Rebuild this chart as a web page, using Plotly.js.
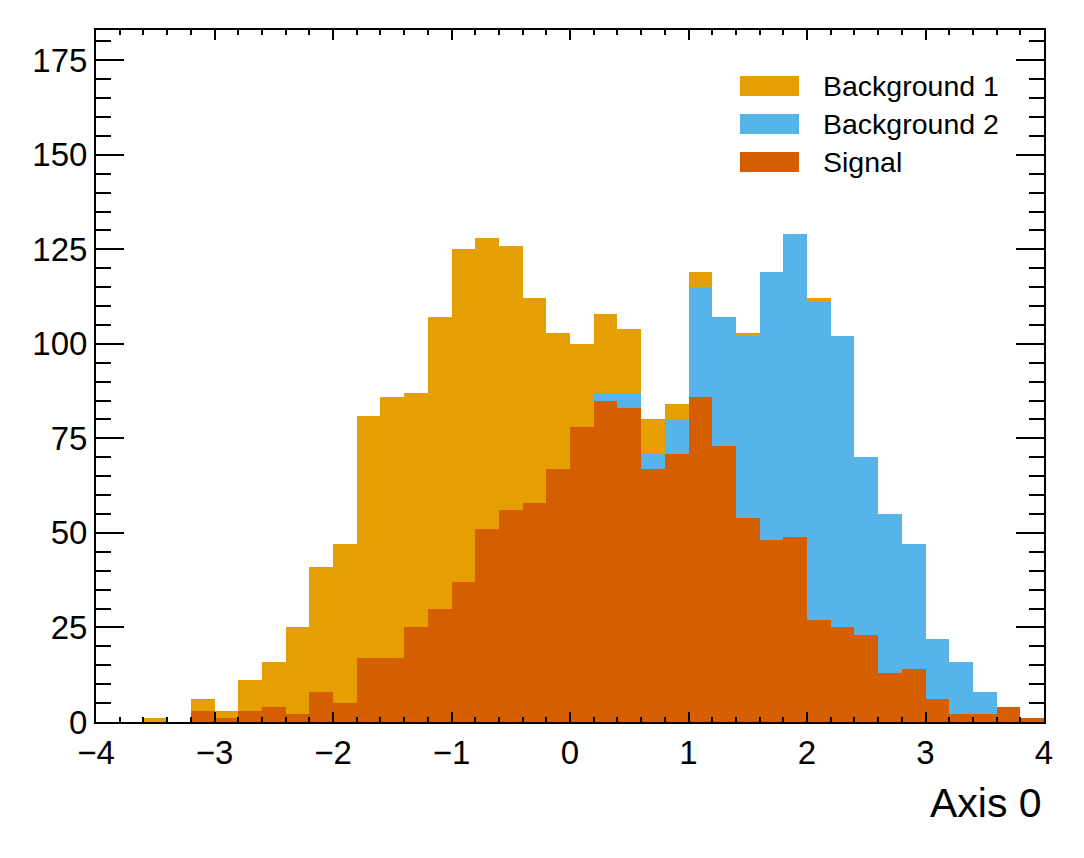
<!DOCTYPE html>
<html>
<head>
<meta charset="utf-8">
<script src="https://cdn.plot.ly/plotly-3.0.1.min.js"></script>
<style>
  html, body { margin: 0; padding: 0; background: #fff; }
  #chart { width: 1084px; height: 858px; }
</style>
</head>
<body>
<div id="chart"></div>
<script>
// 40 bins of width 0.2 from -4 to 4; counts per bin (stacked: signal, bkg 2, bkg 1)
const binStart = -4;
const binWidth = 0.2;

const signal = [0, 0, 0, 0, 3, 1, 3, 4, 2, 8,
                5, 17, 17, 25, 30, 37, 51, 56, 58, 67,
                78, 85, 83, 67, 71, 86, 73, 54, 48, 49,
                27, 25, 23, 13, 14, 6, 2, 2, 4, 1];

const background2 = [0, 0, 0, 0, 0, 0, 0, 0, 0, 0,
                     0, 0, 0, 0, 0, 0, 0, 0, 0, 0,
                     0, 2, 4, 4, 9, 29, 34, 48, 71, 80,
                     84, 77, 47, 42, 33, 16, 14, 6, 0, 0];

const background1 = [0, 0, 1, 0, 3, 2, 8, 12, 23, 33,
                     42, 64, 69, 62, 77, 88, 77, 70, 54, 36,
                     22, 21, 17, 9, 4, 4, 0, 1, 0, 0,
                     1, 0, 0, 0, 0, 0, 0, 0, 0, 0];

const names = ['Background 1', 'Background 2', 'Signal'];
const colors = ['#E69F00', '#56B4E9', '#D55E00'];
const xTitle = 'Axis 0';

const font = 'Helvetica, "Liberation Sans", Arial, sans-serif';

// stack from the bottom: signal, background 2, background 1
const series = [background1, background2, signal];
const traces = [2, 1, 0].map(i => ({
  type: 'bar',
  name: names[i],
  x0: binStart + binWidth / 2,
  dx: binWidth,
  y: series[i],
  marker: { color: colors[i], line: { width: 0 } },
  hoverinfo: 'x+y+name',
}));

// hand-made legend so the swatches are wide boxes like the original
const legendShapes = [];
const legendText = [];
names.forEach((n, i) => {
  const yc = 86 + i * 38;
  legendShapes.push({
    type: 'rect', xref: 'paper', yref: 'paper', layer: 'above',
    x0: (740 - 96) / 948, x1: (799 - 96) / 948,
    y0: (722 - (yc + 10)) / 692, y1: (722 - (yc - 10)) / 692,
    fillcolor: colors[i], line: { width: 0 },
  });
  legendText.push({
    xref: 'paper', yref: 'paper', x: (821 - 96) / 948, y: (722 - yc) / 692,
    xanchor: 'left', yanchor: 'middle', showarrow: false,
    text: n, font: { family: font, size: 28.5, color: '#000' },
  });
});

const axisCommon = {
  showgrid: false, zeroline: false, showline: true, linecolor: '#000', linewidth: 2,
  mirror: 'ticks', ticks: 'inside', tickcolor: '#000', tickwidth: 2,
  tickfont: { family: font, size: 33, color: '#000' },
};

Plotly.newPlot('chart', traces, {
  width: 1084, height: 858,
  paper_bgcolor: '#fff', plot_bgcolor: '#fff',
  margin: { l: 96, r: 40, t: 30, b: 136 },
  barmode: 'stack', bargap: 0,
  showlegend: false,
  font: { family: font, color: '#000' },
  xaxis: {
    ...axisCommon,
    range: [-4, 4], dtick: 1, tick0: 0, ticklen: 10,
    minor: { ticks: 'inside', dtick: 0.2, ticklen: 5, tickcolor: '#000', tickwidth: 1.5 },
  },
  yaxis: {
    ...axisCommon,
    range: [0, 183], dtick: 25, tick0: 0, ticklen: 28,
    minor: { ticks: 'inside', dtick: 5, ticklen: 15, tickcolor: '#000', tickwidth: 1.5 },
  },
  shapes: legendShapes,
  annotations: [
    ...legendText,
    {
      xref: 'paper', yref: 'paper', x: 1, y: (722 - 803) / 692,
      xanchor: 'right', yanchor: 'middle', showarrow: false,
      text: xTitle, font: { family: font, size: 41, color: '#000' },
    },
  ],
}, { displayModeBar: false });
</script>
</body>
</html>
